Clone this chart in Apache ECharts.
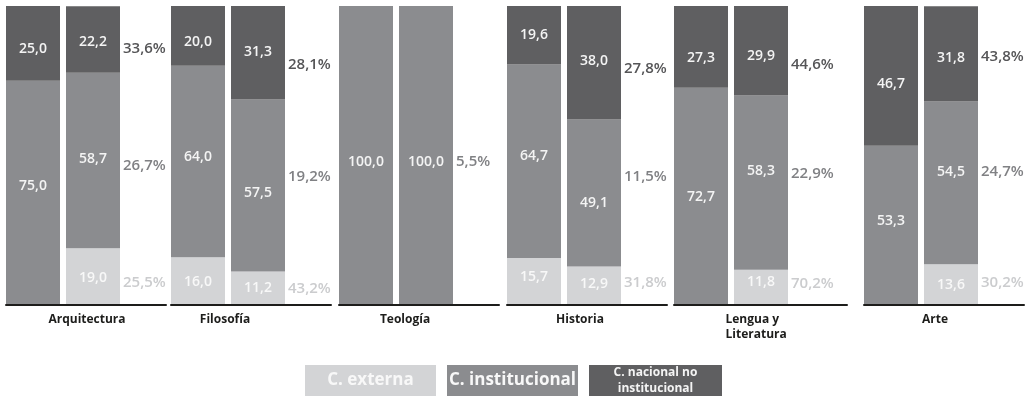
<!DOCTYPE html>
<html>
<head>
<meta charset="utf-8">
<script src="https://cdn.jsdelivr.net/npm/echarts@6/dist/echarts.min.js"></script>
<style>
  html, body { margin: 0; padding: 0; background: #ffffff; }
  #chart { width: 1033px; height: 397px; }
</style>
</head>
<body>
<div id="chart"></div>
<script>
// Areas of study
const categories = ['Arquitectura', 'Filosofía', 'Teología', 'Historia', 'Lengua y\nLiteratura', 'Arte'];

// First bar of each area (%)
const externa1       = [0,    16.0, 0,     15.7, 0,    0];
const institucional1 = [75.0, 64.0, 100.0, 64.7, 72.7, 53.3];
const nacional1      = [25.0, 20.0, 0,     19.6, 27.3, 46.7];

// Second bar of each area (%)
const externa2       = [19.0, 11.2, 0,     12.9, 11.8, 13.6];
const institucional2 = [58.7, 57.5, 100.0, 49.1, 58.3, 54.5];
const nacional2      = [22.2, 31.3, 0,     38.0, 29.9, 31.8];

// Percentages printed beside the second bar
const pctExterna       = [25.5, 43.2, null, 31.8, 70.2, 30.2];
const pctInstitucional = [26.7, 19.2, 5.5,  11.5, 22.9, 24.7];
const pctNacional      = [33.6, 28.1, null, 27.8, 44.6, 43.8];

// Series / legend names
const legendNames = ['C. externa', 'C. institucional', 'C. nacional no institucional'];

// ---- layout & styling ----
const FONT = '"Open Sans", "DejaVu Sans", sans-serif';
const gridLeft  = [6, 171, 339, 507, 674, 864];
const gridWidth = [160, 160, 160, 160, 173, 160];
const BAR_W = 54;
const BAR_GAP = 6;
const catShift = [1, -26, -14, -7, -5, -9];
// vertical label nudges per area, ordered externa / institucional / nacional
const nudgeBar1 = [[0, -7, 6], [1, -4, 6], [0, 7, 0], [-5, -5, 0], [0, 1, 11], [0, -4, 8]];
const nudgeBar2 = [[1, -1, 3], [0, 7, -1], [0, 7, 0], [-2, 10, -2], [-5, -12, 5], [0, -11, 4]];
const nudgePct  = [[6, 5, 9], [0, -9, 12], [0, 6, 0], [-3, -16, 6], [-4, -9, 14], [-2, -11, 3]];

const layers = [
  { name: legendNames[0], color: '#d3d4d6', text: '#f8f8f8', pctColor: '#cbccce',
    v1: externa1, v2: externa2, pct: pctExterna },
  { name: legendNames[1], color: '#8b8c8f', text: '#f4f4f4', pctColor: '#808184',
    v1: institucional1, v2: institucional2, pct: pctInstitucional },
  { name: legendNames[2], color: '#5f5f61', text: '#f4f4f4', pctColor: '#555557',
    v1: nacional1, v2: nacional2, pct: pctNacional }
];

const fmt = v => v.toFixed(1).replace('.', ',');

const grid = [], xAxis = [], yAxis = [], series = [];

categories.forEach((cat, g) => {
  grid.push({ left: gridLeft[g], width: gridWidth[g], top: 6, bottom: 92 });

  const s = catShift[g];
  xAxis.push({
    type: 'category',
    gridIndex: g,
    data: [cat],
    z: 5,
    axisTick: { show: false },
    axisLine: { lineStyle: { color: '#1d1d1b', width: 2 } },
    axisLabel: {
      interval: 0,
      margin: 7,
      color: '#1d1d1b',
      fontFamily: FONT,
      fontSize: 12,
      fontWeight: 'bold',
      lineHeight: 15,
      padding: s >= 0 ? [0, 0, 0, 2 * s] : [0, -2 * s, 0, 0],
      formatter: v => v.indexOf('\n') >= 0
        ? v.split('\n').map(t => '{w|' + t + '}').join('\n')
        : v,
      rich: {
        w: { width: 60, align: 'left', lineHeight: 15, color: '#1d1d1b',
             fontFamily: FONT, fontSize: 12, fontWeight: 'bold' }
      }
    }
  });
  yAxis.push({ type: 'value', gridIndex: g, min: 0, max: 100, show: false });

  // column 0: first bar, column 1: second bar, column 2: percentage labels
  ['b1_', 'b2_', 'pc_'].forEach((col, c) => {
    layers.forEach((L, k) => {
      const val = c === 0 ? L.v1[g] : L.v2[g];
      const isPct = c === 2;
      const pctVal = L.pct[g];
      const dy = (c === 0 ? nudgeBar1 : c === 1 ? nudgeBar2 : nudgePct)[g][k];
      series.push({
        type: 'bar',
        name: isPct ? L.name + ' %' : L.name,
        xAxisIndex: g,
        yAxisIndex: g,
        stack: col + g,
        barWidth: isPct ? gridWidth[g] - 2 * BAR_W - 2 * BAR_GAP : BAR_W,
        barGap: (BAR_GAP / BAR_W * 100).toFixed(3) + '%',
        silent: true,
        data: [val],
        itemStyle: { color: isPct ? 'rgba(0,0,0,0)' : L.color },
        label: isPct ? {
          show: pctVal != null,
          position: [-3, '50%'],
          align: 'left',
          verticalAlign: 'middle',
          offset: [0, dy],
          formatter: () => fmt(pctVal) + '%',
          color: L.pctColor,
          fontFamily: FONT,
          fontSize: 15,
          fontWeight: 600
        } : {
          show: val > 0,
          position: 'inside',
          offset: [0, dy],
          formatter: p => fmt(p.value),
          color: L.text,
          fontFamily: FONT,
          fontSize: 14,
          fontWeight: 600
        }
      });
    });
  });
});

const legendLines = {
  'C. externa': '{ext|C. externa}',
  'C. institucional': '{ins|C. institucional}',
  'C. nacional no institucional': '{nac1|C. nacional no}\n{nac2|institucional}'
};

const option = {
  backgroundColor: '#ffffff',
  animation: false,
  grid, xAxis, yAxis, series,
  legend: {
    left: 300,
    top: 365,
    padding: 0,
    orient: 'horizontal',
    itemWidth: 0,
    itemHeight: 0,
    itemGap: 6,
    selectedMode: false,
    data: legendNames,
    formatter: name => legendLines[name],
    textStyle: {
      fontFamily: FONT,
      rich: {
        ext: { width: 131, height: 31, lineHeight: 31, align: 'center', backgroundColor: '#d3d4d6',
               color: '#f8f8f8', fontFamily: FONT, fontSize: 17, fontWeight: 'bold' },
        ins: { width: 131, height: 31, lineHeight: 31, align: 'center', backgroundColor: '#8b8c8f',
               color: '#f8f8f8', fontFamily: FONT, fontSize: 17, fontWeight: 'bold' },
        nac1: { width: 133, height: 16, lineHeight: 16, align: 'center', backgroundColor: '#5f5f61',
                color: '#f4f4f4', fontFamily: FONT, fontSize: 12, fontWeight: 'bold' },
        nac2: { width: 133, height: 15, lineHeight: 15, align: 'center', backgroundColor: '#5f5f61',
                color: '#f4f4f4', fontFamily: FONT, fontSize: 12, fontWeight: 'bold' }
      }
    }
  }
};

const chart = echarts.init(document.getElementById('chart'), null, { renderer: 'canvas' });
chart.setOption(option);
</script>
</body>
</html>
